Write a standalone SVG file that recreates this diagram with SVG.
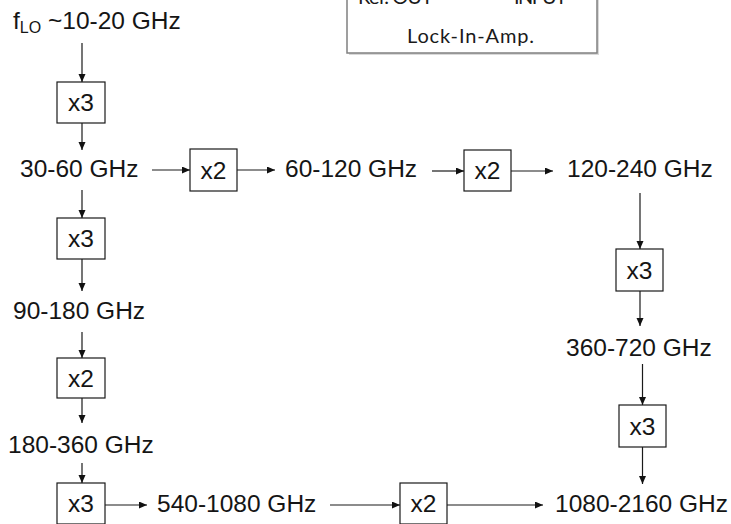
<svg xmlns="http://www.w3.org/2000/svg" width="731" height="524" viewBox="0 0 731 524">
<defs>
<marker id="ah" markerUnits="userSpaceOnUse" markerWidth="9" markerHeight="8" refX="8" refY="3.5" orient="auto">
<path d="M0,0 L8,3.5 L0,7 z" fill="#111"/>
</marker>
<style>
.t{font-family:"Liberation Sans",Arial,sans-serif;font-size:24.5px;fill:#151515}
.b{fill:#fff;stroke:#1a1a1a;stroke-width:1.2}
.c line{stroke:#1a1a1a;stroke-width:1.2;marker-end:url(#ah)}
.l{font-family:Lato,"Open Sans",sans-serif;font-size:20px;fill:#1a1a1a}
</style>
</defs>
<rect width="731" height="524" fill="#fff"/>

<g id="lockin">
<rect x="349" y="-20" width="250" height="75" fill="#d9d9d9"/>
<rect x="347" y="-22" width="250" height="75" fill="#fff" stroke="#808080" stroke-width="1.5"/>
<text class="l" x="358" y="4" textLength="75">Ref. OUT</text>
<text class="l" x="514" y="4" textLength="53">INPUT</text>
<text class="l" x="407" y="43" textLength="127">Lock-In-Amp.</text>
</g>

<g id="n_flo"><text class="t" x="13" y="29">f<tspan font-size="16" dy="4">LO</tspan><tspan dy="-4"> ~10-20 GHz</tspan></text></g>
<g id="n_30"><text class="t" x="20" y="177">30-60 GHz</text></g>
<g id="n_60"><text class="t" x="285" y="177">60-120 GHz</text></g>
<g id="n_120"><text class="t" x="567" y="177">120-240 GHz</text></g>
<g id="n_90"><text class="t" x="13" y="319">90-180 GHz</text></g>
<g id="n_180"><text class="t" x="8" y="453">180-360 GHz</text></g>
<g id="n_360"><text class="t" x="566" y="356">360-720 GHz</text></g>
<g id="n_540"><text class="t" x="157" y="512">540-1080 GHz</text></g>
<g id="n_1080"><text class="t" x="555" y="512">1080-2160 GHz</text></g>

<g id="b1"><rect class="b" x="57" y="82" width="48" height="41"/><text class="t" x="81" y="111" text-anchor="middle">x3</text></g>
<g id="b2"><rect class="b" x="190" y="149" width="47" height="42"/><text class="t" x="213.5" y="178.5" text-anchor="middle">x2</text></g>
<g id="b3"><rect class="b" x="464" y="150" width="47" height="41"/><text class="t" x="487.5" y="179" text-anchor="middle">x2</text></g>
<g id="b4"><rect class="b" x="57" y="218" width="48" height="41"/><text class="t" x="81" y="247" text-anchor="middle">x3</text></g>
<g id="b5"><rect class="b" x="57" y="358" width="48" height="40"/><text class="t" x="81" y="386.5" text-anchor="middle">x2</text></g>
<g id="b6"><rect class="b" x="57" y="483" width="48" height="41"/><text class="t" x="81" y="512" text-anchor="middle">x3</text></g>
<g id="b7"><rect class="b" x="400" y="483" width="47" height="41"/><text class="t" x="423.5" y="512" text-anchor="middle">x2</text></g>
<g id="b8"><rect class="b" x="616" y="249" width="47" height="42"/><text class="t" x="639.5" y="278.5" text-anchor="middle">x3</text></g>
<g id="b9"><rect class="b" x="619" y="405" width="47" height="42"/><text class="t" x="642.5" y="434.5" text-anchor="middle">x3</text></g>

<g id="connectors" class="c">
<line x1="82" y1="43" x2="82" y2="82"/>
<line x1="82" y1="123" x2="82" y2="150"/>
<line x1="152" y1="170" x2="190" y2="170"/>
<line x1="237" y1="170" x2="275" y2="170"/>
<line x1="432" y1="171" x2="464" y2="171"/>
<line x1="511" y1="171" x2="553" y2="171"/>
<line x1="82" y1="190" x2="82" y2="218"/>
<line x1="82" y1="259" x2="82" y2="291"/>
<line x1="82" y1="332" x2="82" y2="358"/>
<line x1="82" y1="398" x2="82" y2="423"/>
<line x1="82" y1="463" x2="82" y2="483"/>
<line x1="105" y1="505" x2="147" y2="505"/>
<line x1="330" y1="505" x2="400" y2="505"/>
<line x1="447" y1="505" x2="543" y2="505"/>
<line x1="640" y1="193" x2="640" y2="249"/>
<line x1="640" y1="291" x2="640" y2="326"/>
<line x1="642.5" y1="364" x2="642.5" y2="405"/>
<line x1="642.5" y1="447" x2="642.5" y2="484"/>
</g>
</svg>
